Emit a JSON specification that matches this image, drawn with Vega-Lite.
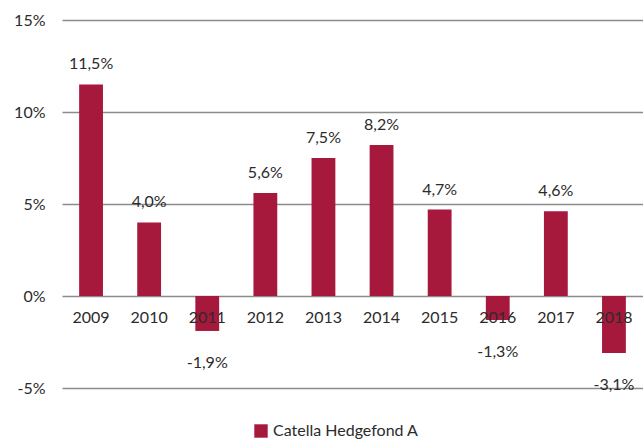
{
  "$schema": "https://vega.github.io/schema/vega-lite/v6.json",
  "width": 581,
  "height": 368,
  "autosize": {"type": "none"},
  "padding": {"left": 62, "top": 20, "right": 0, "bottom": 51},
  "background": "white",
  "config": {
    "view": {"stroke": null},
    "font": "Lato",
    "text": {"font": "Lato"}
  },
  "data": {
    "values": [
      {"year": "2009", "value": 11.5, "series": "Catella Hedgefond A"},
      {"year": "2010", "value": 4.0, "series": "Catella Hedgefond A"},
      {"year": "2011", "value": -1.9, "series": "Catella Hedgefond A"},
      {"year": "2012", "value": 5.6, "series": "Catella Hedgefond A"},
      {"year": "2013", "value": 7.5, "series": "Catella Hedgefond A"},
      {"year": "2014", "value": 8.2, "series": "Catella Hedgefond A"},
      {"year": "2015", "value": 4.7, "series": "Catella Hedgefond A"},
      {"year": "2016", "value": -1.3, "series": "Catella Hedgefond A"},
      {"year": "2017", "value": 4.6, "series": "Catella Hedgefond A"},
      {"year": "2018", "value": -3.1, "series": "Catella Hedgefond A"}
    ]
  },
  "transform": [
    {"calculate": "replace(replace(format(datum.value, '.1f'), '.', ','), '\u2212', '-') + '%'", "as": "label"}
  ],
  "encoding": {
    "x": {
      "field": "year",
      "type": "nominal",
      "scale": {"paddingInner": 0.59, "paddingOuter": 0.295},
      "axis": {
        "title": null,
        "orient": "bottom",
        "offset": -92,
        "domain": false,
        "ticks": false,
        "labelAngle": 0,
        "labelFont": "Lato",
        "labelFontSize": 16,
        "labelColor": "#2b2b2b",
        "labelPadding": 13,
        "zindex": 2
      }
    },
    "y": {
      "field": "value",
      "type": "quantitative",
      "scale": {"domain": [-5, 15], "nice": false},
      "axis": {
        "title": null,
        "values": [-5, 0, 5, 10, 15],
        "labelExpr": "datum.value + '%'",
        "domain": false,
        "ticks": false,
        "grid": true,
        "gridColor": "#8c8c8c",
        "gridWidth": 1.5,
        "labelFont": "Lato",
        "labelFontSize": 16,
        "labelColor": "#2b2b2b",
        "labelPadding": 17
      }
    }
  },
  "layer": [
    {
      "mark": {"type": "bar", "color": "#a6193c"},
      "encoding": {
        "color": {
          "field": "series",
          "type": "nominal",
          "scale": {"range": ["#a6193c"]},
          "legend": {
            "title": null,
            "orient": "none",
            "legendX": 191,
            "legendY": 403,
            "symbolType": "square",
            "symbolSize": 180,
            "symbolOpacity": 1,
            "labelFont": "Lato",
            "labelFontSize": 16,
            "labelColor": "#2b2b2b",
            "labelOffset": 4
          }
        }
      }
    },
    {
      "transform": [{"filter": "datum.value >= 0"}],
      "mark": {"type": "text", "dy": -20, "fontSize": 16, "color": "#2b2b2b", "baseline": "middle"},
      "encoding": {"text": {"field": "label"}}
    },
    {
      "transform": [{"filter": "datum.value < 0"}],
      "mark": {"type": "text", "dy": 32, "fontSize": 16, "color": "#2b2b2b", "baseline": "middle"},
      "encoding": {"text": {"field": "label"}}
    }
  ]
}
